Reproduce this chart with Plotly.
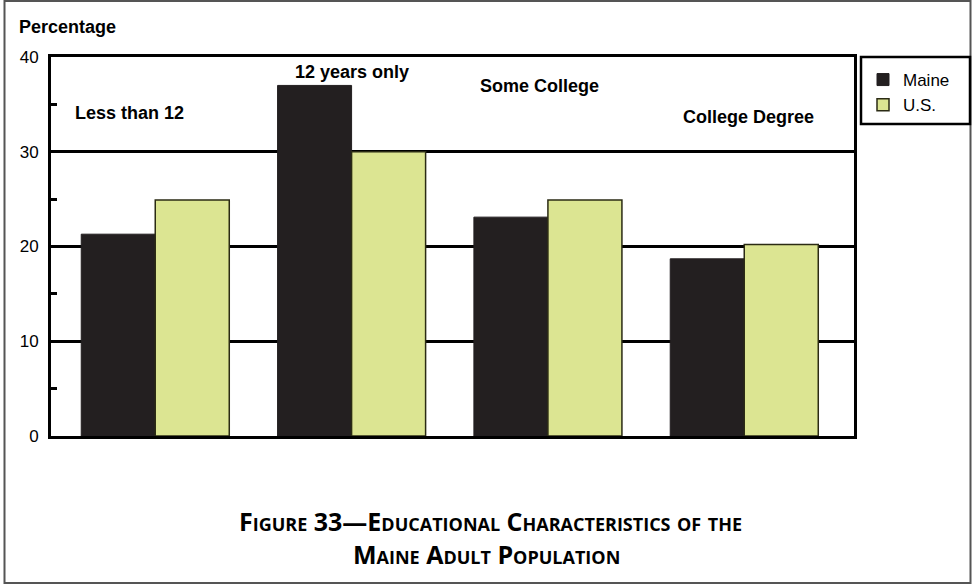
import plotly.graph_objects as go

categories = ["Less than 12", "12 years only", "Some College", "College Degree"]
maine = [21.3, 37.0, 23.1, 18.7]
us = [24.9, 30.0, 24.9, 20.2]
y_ticks = [0, 10, 20, 30, 40]
label_heights = [34.1, 38.4, 36.9, 33.7]
label_shifts = [-26, 0, -8, 4]

W, H = 974, 586
L, R, T, B = 51, 120, 57, 150
pw, ph = W - L - R, H - T - B

def px(x):
    return (x - L) / pw

def py(y):
    return (H - B - y) / ph

fig = go.Figure()
fig.add_trace(go.Bar(name="Maine", x=categories, y=maine,
                     marker=dict(color="#231f20", line=dict(color="#231f20", width=1))))
fig.add_trace(go.Bar(name="U.S.", x=categories, y=us,
                     marker=dict(color="#dce592", line=dict(color="#2b2b14", width=1.5))))

AR = "Liberation Sans, Arial"
annotations = []
for c, h, s in zip(categories, label_heights, label_shifts):
    annotations.append(dict(x=c, y=h, xref="x", yref="y", text="<b>" + c + "</b>",
                            showarrow=False, xshift=s, xanchor="center", yanchor="middle",
                            font=dict(family=AR, size=18, color="black")))
annotations.append(dict(x=px(17), y=py(27), xref="paper", yref="paper",
                        xanchor="left", yanchor="middle",
                        text="<b>Percentage</b>", showarrow=False,
                        font=dict(family=AR, size=18, color="black")))
annotations.append(dict(x=px(490), y=py(521), xref="paper", yref="paper",
                        xanchor="center", yanchor="middle",
                        text="<b>Figure 33—Educational Characteristics of the</b>",
                        showarrow=False,
                        font=dict(family="Open Sans", size=25, color="black", variant="small-caps")))
annotations.append(dict(x=px(487), y=py(554), xref="paper", yref="paper",
                        xanchor="center", yanchor="middle",
                        text="<b>Maine Adult Population</b>",
                        showarrow=False,
                        font=dict(family="Open Sans", size=25, color="black", variant="small-caps")))

shapes = [
    dict(type="rect", xref="paper", yref="paper", x0=px(4.5), x1=px(970.5), y0=py(583), y1=py(1),
         line=dict(color="#555555", width=2), layer="below"),
    dict(type="rect", xref="paper", yref="paper", x0=px(861), x1=px(970), y0=py(124), y1=py(57),
         line=dict(color="black", width=2.5)),
]

fig.update_layout(
    width=W, height=H,
    margin=dict(l=L, r=R, t=T, b=B),
    paper_bgcolor="white", plot_bgcolor="white",
    barmode="group", bargap=0.246, bargroupgap=0,
    showlegend=True,
    legend=dict(x=px(863), y=py(62), xanchor="left", yanchor="top",
                font=dict(family=AR, size=17, color="black"),
                bgcolor="rgba(0,0,0,0)", borderwidth=0, tracegroupgap=0),
    annotations=annotations,
    shapes=shapes,
    xaxis=dict(showticklabels=False, ticks="", range=[-0.531, 3.559],
               showline=True, linecolor="black", linewidth=3, mirror=True, showgrid=False),
    yaxis=dict(range=[0, 40], tickvals=y_ticks, ticks="",
               tickfont=dict(family=AR, size=17, color="black"),
               ticklabelstandoff=6,
               showline=True, linecolor="black", linewidth=3, mirror=True,
               showgrid=True, gridcolor="black", gridwidth=2.5, zeroline=False,
               minor=dict(ticks="inside", ticklen=6, tickwidth=2.5, tickcolor="black",
                          tick0=5, dtick=10, showgrid=False)),
)

fig.write_html("out.html", config={"displayModeBar": False},
               post_script="document.body.style.margin='0px';document.body.style.overflow='hidden';")
